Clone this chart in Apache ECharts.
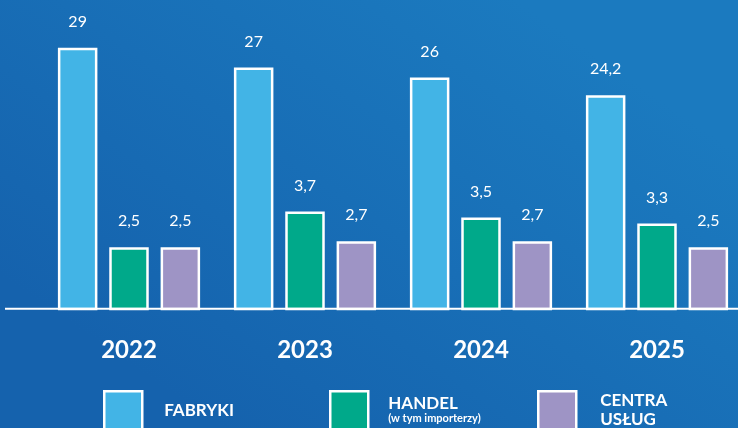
<!DOCTYPE html>
<html lang="pl" style="height: 100%">
<head>
  <meta charset="utf-8">
  <style>
    body { margin: 0; height: 100%; }
    #container { width: 738px; height: 428px; }
  </style>
</head>
<body>
  <div id="container"></div>
  <script src="https://cdn.jsdelivr.net/npm/echarts@6/dist/echarts.min.js"></script>
  <script>
    const years = ['2022', '2023', '2024', '2025'];
    const fabryki = [29, 27, 26, 24.2];
    const handel = [2.5, 3.7, 3.5, 3.3];
    const centra = [2.5, 2.7, 2.7, 2.5];

    const colFabryki = '#42b4e6';
    const colHandel = '#00a98a';
    const colCentra = '#9e94c5';

    var myChart = echarts.init(document.getElementById('container'), null, { renderer: 'canvas' });

    function fmt(p) {
      return String(p.value).replace('.', ',');
    }

    function barSeries(name, data, color, axis) {
      return {
        name: name,
        type: 'bar',
        yAxisIndex: axis,
        data: data,
        barWidth: 39.5,
        barGap: '30%',
        itemStyle: { color: color, borderColor: '#fff', borderWidth: 2.5 },
        label: {
          show: true,
          position: 'top',
          distance: 18,
          color: '#fff',
          fontFamily: 'Lato',
          fontSize: 16,
          formatter: fmt
        },
        emphasis: { disabled: true },
        animation: false
      };
    }

    const legendBase = {
      top: 390,
      padding: 0,
      icon: 'rect',
      itemWidth: 38,
      itemHeight: 38,
      itemStyle: { borderColor: '#fff', borderWidth: 2.5 },
      selectedMode: false
    };

    var option = {
      backgroundColor: new echarts.graphic.LinearGradient(0.3, 1, 0.7, 0, [
        { offset: 0, color: '#1562ad' },
        { offset: 1, color: '#1b7abf' }
      ]),
      grid: { left: 41, top: 10, width: 704, height: 299, outerBoundsMode: 'none', containLabel: false },
      xAxis: {
        type: 'category',
        data: years,
        axisLine: { show: false },
        axisTick: { show: false },
        axisLabel: {
          margin: 29,
          color: '#fff',
          fontFamily: 'Lato',
          fontWeight: 'bold',
          fontSize: 24
        }
      },
      yAxis: [
        { type: 'value', min: 2.66, max: 32.8, show: false },
        { type: 'value', min: 0.42, max: 10.49, show: false }
      ],
      legend: [
        Object.assign({}, legendBase, {
          left: 103,
          data: ['FABRYKI'],
          textStyle: {
            color: '#fff', fontFamily: 'Lato', fontWeight: 'bold', fontSize: 17,
            padding: [0, 0, 0, 17]
          }
        }),
        Object.assign({}, legendBase, {
          left: 329,
          data: ['HANDEL'],
          formatter: function () { return '{a|HANDEL}\n{b|(w tym importerzy)}'; },
          textStyle: {
            color: '#fff', fontFamily: 'Lato', fontWeight: 'bold',
            padding: [0, 0, 0, 15],
            rich: {
              a: { color: '#fff', fontFamily: 'Lato', fontWeight: 'bold', fontSize: 17, lineHeight: 17 },
              b: { color: '#fff', fontFamily: 'Lato', fontWeight: 'bold', fontSize: 11, lineHeight: 13 }
            }
          }
        }),
        Object.assign({}, legendBase, {
          left: 537,
          data: ['CENTRA USŁUG'],
          formatter: function () { return '{a|CENTRA}\n{a|USŁUG}'; },
          textStyle: {
            color: '#fff', fontFamily: 'Lato', fontWeight: 'bold',
            padding: [0, 0, 0, 19],
            rich: {
              a: { color: '#fff', fontFamily: 'Lato', fontWeight: 'bold', fontSize: 17, lineHeight: 19 }
            }
          }
        })
      ],
      graphic: [
        {
          type: 'line',
          z: 100,
          shape: { x1: 5, y1: 308.7, x2: 738, y2: 308.7 },
          style: { stroke: '#fff', lineWidth: 2 }
        }
      ],
      series: [
        barSeries('FABRYKI', fabryki, colFabryki, 0),
        barSeries('HANDEL', handel, colHandel, 1),
        barSeries('CENTRA USŁUG', centra, colCentra, 1)
      ]
    };

    myChart.setOption(option);
    window.addEventListener('resize', myChart.resize);
  </script>
</body>
</html>
